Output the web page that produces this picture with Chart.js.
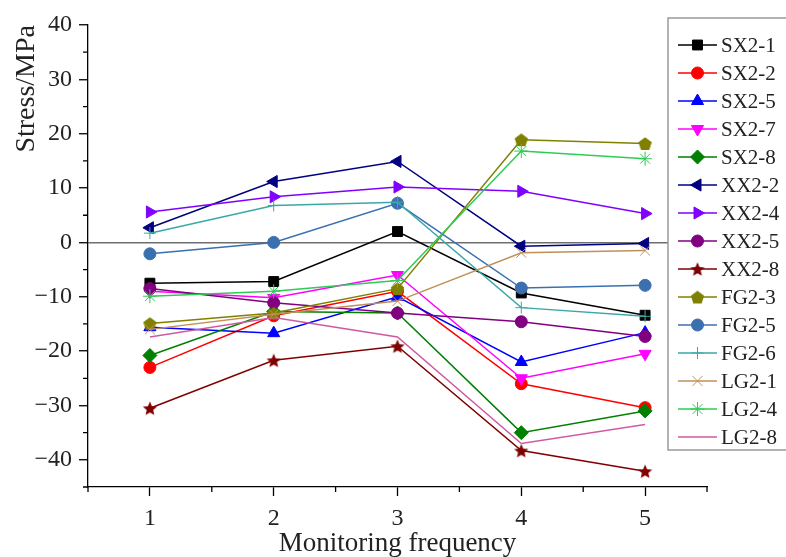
<!DOCTYPE html>
<html>
<head>
<meta charset="utf-8">
<script src="https://cdn.jsdelivr.net/npm/chart.js@4.4.1/dist/chart.umd.min.js"></script>
<style>
  html, body { margin: 0; padding: 0; background: #fff; }
  #wrap { width: 786px; height: 557px; }
</style>
</head>
<body>
<div id="wrap"><canvas id="stress-chart" width="786" height="557"></canvas></div>
<script>
// Monitoring frequency (x) and stress values per gauge (MPa)
const frequencies = [1, 2, 3, 4, 5];

const sx2_1 = [-7.5, -7.2, 2.0, -9.3, -13.4];
const sx2_2 = [-23.0, -13.5, -9.0, -26.0, -30.4];
const sx2_5 = [-15.6, -16.7, -10.0, -22.0, -16.6];
const sx2_7 = [-9.0, -10.2, -6.0, -25.0, -20.5];
const sx2_8 = [-20.8, -12.7, -13.0, -35.0, -31.0];
const xx2_2 = [2.7, 11.2, 14.9, -0.7, -0.2];
const xx2_4 = [5.6, 8.4, 10.2, 9.4, 5.3];
const xx2_5 = [-8.5, -11.1, -13.0, -14.6, -17.3];
const xx2_8 = [-30.5, -21.7, -19.1, -38.3, -42.1];
const fg2_3 = [-14.9, -13.0, -8.5, 18.9, 18.2];
const fg2_5 = [-2.1, 0.0, 7.2, -8.4, -7.9];
const fg2_6 = [1.7, 6.8, 7.4, -12.0, -13.6];
const lg2_1 = [-16.0, -13.2, -10.8, -1.9, -1.5];
const lg2_4 = [-9.9, -9.0, -7.0, 16.8, 15.4];
const lg2_8 = [-17.4, -13.8, -17.4, -37.0, -33.5];

const seriesLabels = ['SX2-1', 'SX2-2', 'SX2-5', 'SX2-7', 'SX2-8', 'XX2-2', 'XX2-4', 'XX2-5',
                      'XX2-8', 'FG2-3', 'FG2-5', 'FG2-6', 'LG2-1', 'LG2-4', 'LG2-8'];
const seriesValues = [sx2_1, sx2_2, sx2_5, sx2_7, sx2_8, xx2_2, xx2_4, xx2_5,
                      xx2_8, fg2_3, fg2_5, fg2_6, lg2_1, lg2_4, lg2_8];

const xTicksMajor = [1, 2, 3, 4, 5];
const yTicksMajor = [-40, -30, -20, -10, 0, 10, 20, 30, 40];

// --- styles ---
const FONT = '"Liberation Serif", "DejaVu Serif", serif';

function shapeCanvas(kind, color, size) {
    const c = document.createElement('canvas');
    c.width = size; c.height = size;
    const g = c.getContext('2d');
    const cx = size / 2, cy = size / 2, R = size / 2 - 0.5;
    g.beginPath();
    if (kind === 'star') {
        const r = R * 0.45;
        for (let k = 0; k < 10; k++) {
            const a = -Math.PI / 2 + k * Math.PI / 5;
            const rr = k % 2 === 0 ? R : r;
            g.lineTo(cx + rr * Math.cos(a), cy + rr * Math.sin(a) + 0.8);
        }
    } else {
        for (let k = 0; k < 5; k++) {
            const a = -Math.PI / 2 + k * 2 * Math.PI / 5;
            g.lineTo(cx + R * Math.cos(a), cy + R * Math.sin(a) + 0.8);
        }
    }
    g.closePath();
    g.fillStyle = color;
    g.fill();
    return c;
}

const styles = [
    { color: '#000000', point: 'rect', radius: 7, rot: 0 },
    { color: '#ff0000', point: 'circle', radius: 6, rot: 0 },
    { color: '#0000ff', point: 'triangle', radius: 7, rot: 0 },
    { color: '#ff00ff', point: 'triangle', radius: 7, rot: 180 },
    { color: '#008000', point: 'rectRot', radius: 7, rot: 0 },
    { color: '#000080', point: 'triangle', radius: 7, rot: -90 },
    { color: '#8000ff', point: 'triangle', radius: 7, rot: 90 },
    { color: '#800080', point: 'circle', radius: 6, rot: 0 },
    { color: '#800000', point: shapeCanvas('star', '#800000', 16), radius: 8, rot: 0 },
    { color: '#808000', point: shapeCanvas('pentagon', '#808000', 15), radius: 7, rot: 0 },
    { color: '#3a70b0', point: 'circle', radius: 6, rot: 0 },
    { color: '#3aa8a8', point: 'cross', radius: 6, rot: 0 },
    { color: '#c09058', point: 'crossRot', radius: 7, rot: 0 },
    { color: '#2ecc55', point: 'star', radius: 7, rot: 0 },
    { color: '#d05aa0', point: 'circle', radius: 0, rot: 0 }
];

const datasets = seriesLabels.map((label, i) => ({
    label: label,
    data: frequencies.map((f, j) => ({ x: f, y: seriesValues[i][j] })),
    borderColor: styles[i].color,
    backgroundColor: styles[i].color,
    borderWidth: 1.5,
    pointStyle: styles[i].point,
    pointRadius: styles[i].radius,
    pointHoverRadius: styles[i].radius,
    pointRotation: styles[i].rot,
    pointBorderWidth: 1,
    tension: 0,
    order: -i
}));

// short minor ticks between the labelled ones
const minorTicks = {
    id: 'minorTicks',
    afterDraw(chart) {
        const ctx = chart.ctx;
        const xs = chart.scales.x, ys = chart.scales.y;
        ctx.save();
        ctx.strokeStyle = '#000';
        ctx.lineWidth = 1.3;
        ctx.beginPath();
        for (let v = 0.5; v <= 5.5; v += 1) {
            const px = xs.getPixelForValue(v);
            ctx.moveTo(px, xs.top); ctx.lineTo(px, xs.top + 5);
        }
        for (let v = -45; v <= 40; v += 10) {
            const py = ys.getPixelForValue(v);
            ctx.moveTo(ys.right, py); ctx.lineTo(ys.right - 5, py);
        }
        ctx.stroke();
        ctx.restore();
    }
};

// boxed legend sitting over the right side of the plot
const boxLegend = {
    id: 'boxLegend',
    afterDraw(chart) {
        const ctx = chart.ctx;
        const left = 668, top = 18, rowH = 28;
        const n = chart.data.datasets.length;
        ctx.save();
        ctx.fillStyle = '#fff';
        ctx.strokeStyle = '#9a9a9a';
        ctx.lineWidth = 1.5;
        ctx.fillRect(left, top, 130, n * rowH + 12);
        ctx.strokeRect(left, top, 130, n * rowH + 12);
        chart.data.datasets.forEach((ds, i) => {
            const y = top + 27 + i * rowH;
            ctx.strokeStyle = ds.borderColor;
            ctx.lineWidth = 1.5;
            ctx.beginPath();
            ctx.moveTo(678, y); ctx.lineTo(717, y);
            ctx.stroke();
            if (ds.pointRadius > 0) {
                ctx.fillStyle = ds.backgroundColor;
                ctx.strokeStyle = ds.borderColor;
                ctx.lineWidth = 1;
                Chart.helpers.drawPoint(ctx, {
                    pointStyle: ds.pointStyle,
                    radius: ds.pointRadius,
                    rotation: ds.pointRotation,
                    borderWidth: 1
                }, 697.5, y);
            }
            ctx.fillStyle = '#222';
            ctx.font = '21px ' + FONT;
            ctx.textBaseline = 'middle';
            ctx.textAlign = 'left';
            ctx.fillText(ds.label, 721, y + 1);
        });
        ctx.restore();
    }
};

const minus = v => String(v).replace('-', '\u2212');

new Chart(document.getElementById('stress-chart'), {
    type: 'line',
    data: { datasets: datasets },
    options: {
        responsive: false,
        animation: false,
        layout: { padding: { top: 25, right: 79, left: 0, bottom: 0 } },
        plugins: {
            legend: { display: false },
            tooltip: { enabled: false }
        },
        scales: {
            x: {
                type: 'linear',
                min: 0.5,
                max: 5.5,
                afterFit: s => { s.height = 70; },
                ticks: {
                    stepSize: 0.5,
                    autoSkip: false,
                    maxRotation: 0,
                    padding: 8,
                    color: '#222',
                    font: { family: FONT, size: 24 },
                    callback: v => xTicksMajor.includes(v) ? String(v) : ''
                },
                grid: {
                    color: 'rgba(0,0,0,0)',
                    tickLength: 9,
                    tickWidth: 1.3,
                    tickColor: c => xTicksMajor.includes(c.tick.value) ? '#000' : 'rgba(0,0,0,0)'
                },
                border: { color: '#000', width: 1.3 },
                title: {
                    display: true,
                    text: 'Monitoring frequency',
                    color: '#222',
                    font: { family: FONT, size: 27 },
                    padding: { top: 0, bottom: -3 }
                }
            },
            y: {
                min: -45,
                max: 40,
                afterFit: s => { s.width = 88; },
                ticks: {
                    stepSize: 5,
                    autoSkip: false,
                    padding: 7,
                    color: '#222',
                    font: { family: FONT, size: 24 },
                    callback: v => yTicksMajor.includes(v) ? minus(v) : ''
                },
                grid: {
                    color: c => c.tick.value === 0 ? '#6e6e6e' : 'rgba(0,0,0,0)',
                    lineWidth: 1.5,
                    tickLength: 9,
                    tickWidth: 1.3,
                    tickColor: c => yTicksMajor.includes(c.tick.value) ? '#000' : 'rgba(0,0,0,0)'
                },
                border: { color: '#000', width: 1.3 },
                title: {
                    display: true,
                    text: 'Stress/MPa',
                    align: 'end',
                    color: '#222',
                    font: { family: FONT, size: 28 },
                    padding: { top: 10, bottom: 0 }
                }
            }
        }
    },
    plugins: [minorTicks, boxLegend]
});
</script>
</body>
</html>
